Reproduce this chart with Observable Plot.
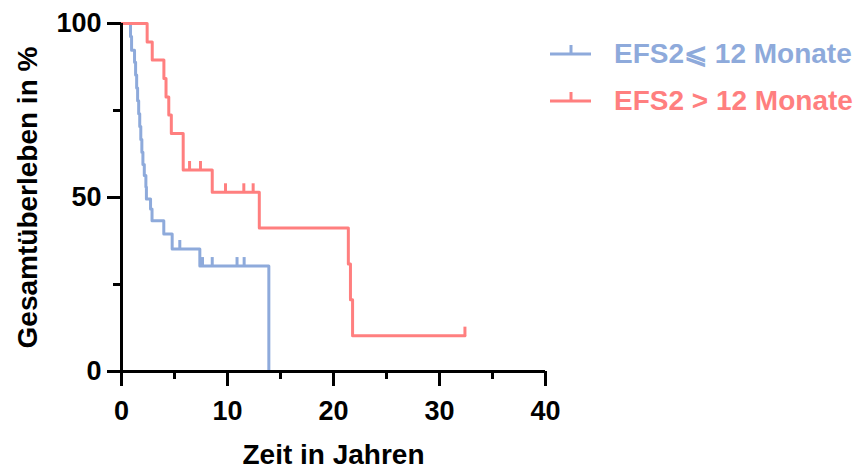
<!DOCTYPE html>
<html>
<head>
<meta charset="utf-8">
<script src="https://cdn.jsdelivr.net/npm/d3@7"></script>
<script src="https://cdn.jsdelivr.net/npm/@observablehq/plot@0.6"></script>
<style>
  body { margin: 0; background: #fff; }
  #chart { position: relative; width: 857px; height: 471px; font-family: "Liberation Sans", Arial, sans-serif; font-weight: bold; }
  .key { position: absolute; display: flex; align-items: center; font-size: 28px; white-space: nowrap; }
  .key svg { display: block; margin-right: 23px; }
</style>
</head>
<body>
<div id="chart"></div>
<script>
// Groups (legend order) and their colours
const groupNames = ["EFS2⩽ 12 Monate", "EFS2 > 12 Monate"];
const groupColors = ["#8eaadb", "#ff7f7f"];

// Kaplan–Meier steps, EFS2 ≤ 12 Monate: time (years) and survival (%) after each event
const shortTime = [0, 0.85, 0.95, 1.23, 1.33, 1.43, 1.52, 1.62, 1.72, 1.82, 1.92, 2.02, 2.15, 2.30, 2.35, 2.74, 2.88, 3.99, 4.78, 7.39, 13.9];
const shortSurv = [100, 96.3, 92.3, 88.9, 85.2, 81.5, 77.8, 74.1, 70.4, 66.7, 63.0, 59.5, 56.3, 53.0, 49.6, 46.7, 43.3, 39.5, 35.2, 30.3, 0];
// censored observations, EFS2 ≤ 12 Monate
const shortCensorTime = [5.5, 7.64, 8.56, 10.9, 11.57];
const shortCensorSurv = [35.2, 30.3, 30.3, 30.3, 30.3];

// Kaplan–Meier steps, EFS2 > 12 Monate
const longTime = [0, 2.42, 2.9, 4.0, 4.2, 4.46, 4.7, 5.82, 8.56, 13.0, 21.4, 21.6, 21.8, 32.4];
const longSurv = [100, 94.7, 89.5, 84.2, 78.9, 73.7, 68.4, 57.9, 51.5, 41.2, 30.9, 20.6, 10.3, 10.3];
// censored observations, EFS2 > 12 Monate
const longCensorTime = [6.42, 7.45, 9.81, 11.54, 12.42, 32.4];
const longCensorSurv = [57.9, 57.9, 51.5, 51.5, 51.5, 10.3];

// Axis ticks and titles
const xMajorTicks = [0, 10, 20, 30, 40];
const xMinorTicks = [5, 15, 25, 35];
const yMajorTicks = [0, 50, 100];
const yMinorTicks = [25, 75];
const xTitle = "Zeit in Jahren";
const yTitle = "Gesamtüberleben in %";

const font = '"Liberation Sans", Arial, sans-serif';
const steps = (times, surv, g) => times.map((t, i) => ({t, s: surv[i], g}));
const curves = [
  ...steps(shortTime, shortSurv, groupNames[0]),
  ...steps(longTime, longSurv, groupNames[1])
];
const censors = [
  ...steps(shortCensorTime, shortCensorSurv, groupNames[0]),
  ...steps(longCensorTime, longCensorSurv, groupNames[1])
];

// short vertical tick marking a censored patient
const censorTick = { draw(ctx) { ctx.moveTo(0, 0); ctx.lineTo(0, -9); } };

const plot = Plot.plot({
  width: 857,
  height: 471,
  marginLeft: 121,
  marginRight: 312,
  marginTop: 23,
  marginBottom: 100,
  x: { domain: [0, 40] },
  y: { domain: [0, 100] },
  color: { domain: groupNames, range: groupColors },
  style: { fontFamily: font, fontWeight: "bold", fontSize: "27px", color: "black", background: "white", overflow: "visible" },
  marks: [
    Plot.line(curves, { x: "t", y: "s", z: "g", stroke: "g", curve: "step-after", strokeWidth: 3 }),
    Plot.dot(censors, { x: "t", y: "s", stroke: "g", symbol: censorTick, r: 5, fill: "none", strokeWidth: 3 }),
    Plot.ruleX([0], { strokeWidth: 3 }),
    Plot.ruleY([0], { strokeWidth: 3 }),
    Plot.axisY(yMajorTicks, { tickSize: 14, strokeWidth: 3, tickPadding: 6, label: null }),
    Plot.axisY(yMinorTicks, { tickSize: 8, strokeWidth: 3, tickFormat: () => "", label: null }),
    Plot.axisX(xMajorTicks, { tickSize: 15, strokeWidth: 3, tickPadding: 14, label: null }),
    Plot.axisX(xMinorTicks, { tickSize: 8, strokeWidth: 3, tickFormat: () => "", label: null }),
    Plot.text([xTitle], { text: d => d, frameAnchor: "bottom", lineAnchor: "middle", textAnchor: "middle", dy: 84, fontSize: 28, fontWeight: "bold" }),
    Plot.text([yTitle], { text: d => d, frameAnchor: "left", lineAnchor: "middle", textAnchor: "middle", dx: -93, rotate: -90, fontSize: 28, fontWeight: "bold" })
  ]
});

const chart = document.getElementById("chart");
chart.appendChild(plot);

// Legend at the right of the plot area
const keyTops = [53, 101];
groupNames.forEach((name, i) => {
  const key = d3.select(chart).append("div").attr("class", "key")
    .style("left", "550px").style("top", (keyTops[i] - 16) + "px")
    .style("color", groupColors[i]);
  const sym = key.append("svg").attr("width", 41).attr("height", 32);
  sym.append("line").attr("x1", 0).attr("x2", 41).attr("y1", 16).attr("y2", 16)
    .attr("stroke", groupColors[i]).attr("stroke-width", 3);
  sym.append("line").attr("x1", 21).attr("x2", 21).attr("y1", 16).attr("y2", 7)
    .attr("stroke", groupColors[i]).attr("stroke-width", 3);
  key.append("span").text(name);
});
</script>
</body>
</html>
